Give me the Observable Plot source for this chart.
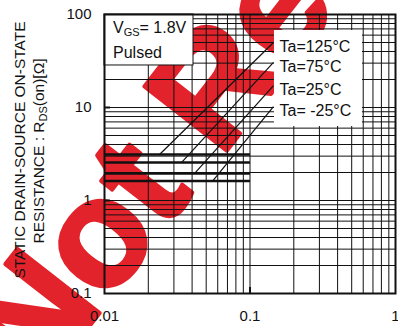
<!DOCTYPE html>
<html><head><meta charset="utf-8">
<script src="https://cdn.jsdelivr.net/npm/d3@7"></script>
<script src="https://cdn.jsdelivr.net/npm/@observablehq/plot@0.6"></script>
<style>html,body{margin:0;padding:0;background:#fff;} svg{display:block}</style>
</head><body><div id="chart"></div>
<script>
// ---- data ----
const temps = ["Ta=125°C", "Ta=75°C", "Ta=25°C", "Ta= -25°C"];
const plateauR = [3.12, 2.56, 1.95, 1.62];      // Ω, flat part at low current
const plateauI = [0.01, 0.1];                    // A, current range of flat part
const kneeI = [0.0239, 0.0338, 0.0415, 0.0553];  // A, start of rising part
const endI = [0.145, 0.145, 0.145, 0.145];       // A, end of rising part
const endR = [50, 30.5, 17.2, 10.2];             // Ω, end of rising part
const xTicks = [0.01, 0.1, 1];
const yTicks = [0.1, 1, 10, 100];
const xGrid = [0.02,0.03,0.04,0.05,0.06,0.07,0.08,0.09,0.1,0.2,0.3,0.4,0.5,0.6,0.7,0.8,0.9];
const yGrid = [0.2,0.3,0.4,0.5,0.6,0.7,0.8,0.9,1,2,3,4,5,6,7,8,9,10,20,30,40,50,60,70,80,90];
const condLines = ["Pulsed"];
const watermark = ["Not Recommended"];

// ---- layout ----
const W = 398, H = 326;
const ink = "#111";
const FONT = "'Liberation Sans', Arial, sans-serif";

const flat = temps.map((t, i) => ({t, x1: plateauI[0], x2: plateauI[1], r: plateauR[i]}));
const rise = temps.map((t, i) => ({t, x1: kneeI[i], y1: plateauR[i], x2: endI[i], y2: endR[i]}));

const plot = Plot.plot({
  width: W, height: H,
  marginLeft: 104, marginRight: 3, marginTop: 14, marginBottom: 33,
  style: {fontFamily: FONT, fontSize: "15px", background: "#fff", color: ink},
  x: {type: "log", domain: [0.01, 1], axis: null},
  y: {type: "log", domain: [0.1, 100], axis: null},
  marks: [
    Plot.text(watermark, {frameAnchor: "bottom-left", dx: -66, dy: 98, rotate: -52, fontSize: 152,
      fontWeight: "bold", fill: "#e3232b", stroke: "#e3232b", strokeWidth: 4, strokeLinejoin: "round",
      textAnchor: "start", lineAnchor: "bottom"}),
    Plot.ruleX(xGrid, {stroke: ink, strokeWidth: 1}),
    Plot.ruleY(yGrid, {stroke: ink, strokeWidth: 1}),
    Plot.link(flat, {x1: "x1", x2: "x2", y1: "r", y2: "r", stroke: ink, strokeWidth: 2.4}),
    // white background behind the temperature labels
    Plot.rect([0], {x1: 0.1473, x2: 0.593, y1: 6.25, y2: 67.3, fill: "#fff"}),
    // condition box
    Plot.rect([0], {x1: 0.01, x2: 0.0409, y1: 28.3, y2: 100, fill: "#fff", stroke: ink, strokeWidth: 1}),
    Plot.link(rise, {x1: "x1", y1: "y1", x2: "x2", y2: "y2", stroke: ink, strokeWidth: 1.2}),
    Plot.text(rise, {x: "x2", y: "y2", text: "t", dx: 6, dy: 4, textAnchor: "start", lineAnchor: "middle",
      fontSize: 16, fill: ink}),
    Plot.frame({stroke: ink, strokeWidth: 2}),
    Plot.axisY([1, 10], {tickSize: -6, strokeWidth: 2, text: null, stroke: ink}),
    Plot.axisX([0.1], {tickSize: -6, strokeWidth: 2, text: null, stroke: ink}),
    Plot.axisY(yTicks, {tickSize: 0, tickPadding: 0, dx: -13, tickFormat: d => String(d), fontSize: 15, fill: ink}),
    Plot.axisX(xTicks, {tickSize: 0, tickPadding: 17, tickFormat: d => String(d), fontSize: 15, fill: ink})
  ]
});
document.getElementById("chart").appendChild(plot);

// ---- texts needing subscripts ----
const svg = d3.select(plot);
const xs = plot.scale("x"), ys = plot.scale("y");
const bx = xs.apply(0.01), by = ys.apply(100);
const cond = svg.append("text").attr("font-size", 16).attr("fill", ink)
  .attr("text-anchor", "start").attr("font-family", FONT);
cond.append("tspan").attr("x", bx + 9).attr("y", by + 19).text("V");
cond.append("tspan").attr("font-size", 11).attr("dy", 3).text("GS");
cond.append("tspan").attr("dy", -3).text("= 1.8V");
svg.append("text").attr("font-size", 16).attr("fill", ink)
  .attr("text-anchor", "start").attr("font-family", FONT)
  .attr("x", bx + 9).attr("y", by + 44).text(condLines[0]);

svg.append("text").attr("transform", "translate(25,150) rotate(-90)")
  .attr("text-anchor", "middle").attr("font-size", 15.5).attr("fill", ink)
  .attr("font-family", FONT)
  .text("STATIC DRAIN-SOURCE ON-STATE");
const yl2 = svg.append("text").attr("transform", "translate(44,151) rotate(-90)")
  .attr("text-anchor", "middle").attr("font-size", 15.5).attr("fill", ink)
  .attr("font-family", FONT);
yl2.append("tspan").text("RESISTANCE : R");
yl2.append("tspan").attr("font-size", 11).attr("dy", 3).text("DS");
yl2.append("tspan").attr("dy", -3).text("(on)[Ω]");
</script>
</body></html>
